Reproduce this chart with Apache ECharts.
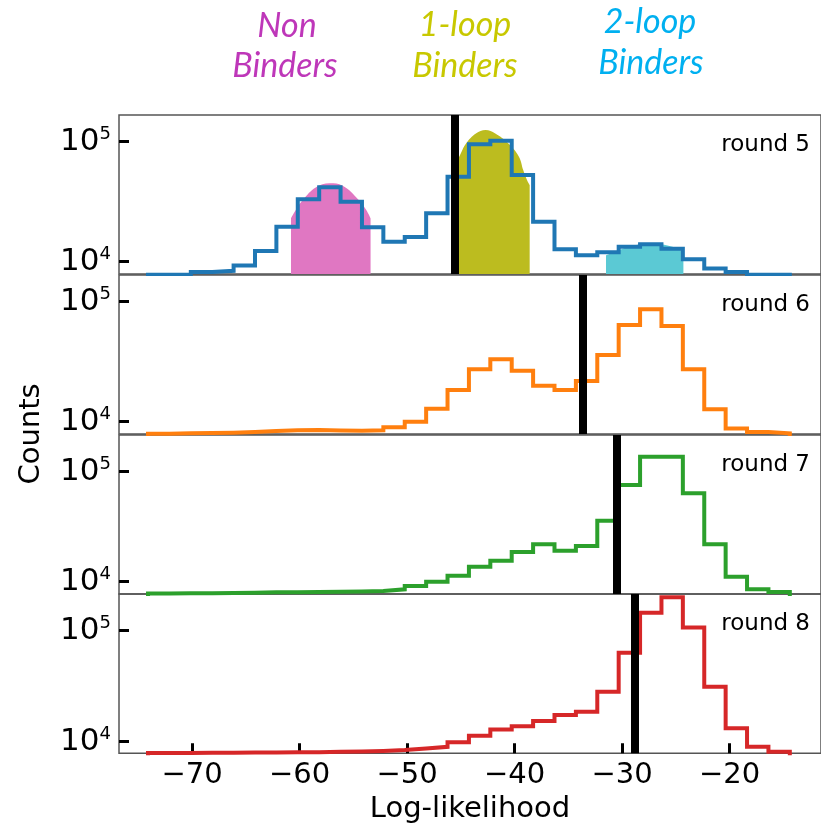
<!DOCTYPE html>
<html>
<head>
<meta charset="UTF-8">
<title></title>
<script src="https://cdn.jsdelivr.net/npm/echarts@6/dist/echarts.min.js"></script>
<style type="text/css">
	html, body { margin: 0; padding: 0; background: #fff; }
	#box { width: 821px; height: 826px; }
</style>
</head>
<body>
<div id="box"></div>
<script type="text/javascript">
// histogram bins (Log-likelihood), 30 bins
var binStart = -74.1;
var binWidth = 1.99;
var xTicks = [-70, -60, -50, -40, -30, -20];
var yTicks = [10000, 100000];

var round5 = [7800, 7800, 8200, 8400, 9300, 12300, 19600, 33100, 41700, 31600, 19400, 14700, 16100, 25300, 51100,
	95000, 102000, 52700, 21500, 12700, 11300, 12000, 13300, 14000, 12800, 10500, 8800, 8200, 7800, 7800];
var round6 = [7950, 8000, 8050, 8100, 8200, 8350, 8500, 8550, 8450, 8400, 8500, 9000, 10000, 12800, 18400,
	27400, 33100, 26600, 19900, 18400, 21800, 36000, 64000, 86500, 62800, 27400, 12700, 8800, 8200, 8000];
var round7 = [7800, 7850, 7850, 7900, 7950, 8000, 8000, 8050, 8100, 8150, 8230, 8530, 9140, 10000, 11340,
	13700, 15500, 18600, 21900, 19100, 21100, 35900, 75700, 137000, 137000, 63700, 21900, 11100, 8530, 8050];
var round8 = [7900, 7900, 7950, 7950, 8000, 8000, 8050, 8050, 8100, 8150, 8250, 8400, 8700, 9000, 9900,
	11300, 12900, 13800, 15400, 17400, 18600, 28200, 63400, 145000, 200000, 107000, 31300, 13200, 9000, 8130];

// thresholds (black lines)
var cutoffs = [-45.6, -33.7, -30.5, -28.8];

// shaded populations on round 5
var nonBinders = [[-60.8, 23000], [-60.3, 27500], [-59.7, 32700], [-58.5, 41500], [-57.2, 45000],
	[-56.0, 43000], [-54.5, 32700], [-53.8, 27000], [-53.4, 23000]];
var oneLoop = [[-45.6, 61000], [-45.0, 80000], [-44.5, 97000], [-43.6, 117000], [-42.7, 125000],
	[-41.8, 117000], [-40.6, 97000], [-39.6, 75000], [-39.2, 58000], [-38.85, 48000], [-38.6, 43600]];
var twoLoop = [[-31.5, 11300], [-30.2, 12600], [-28.8, 13700], [-27.5, 14200], [-26.2, 13900],
	[-25.0, 13000], [-24.3, 12100]];

var rounds = [round5, round6, round7, round8];
var roundNames = ['round 5', 'round 6', 'round 7', 'round 8'];
var lineColors = ['#1f77b4', '#ff7f0e', '#2ca02c', '#d62728'];
var yMin = [7900, 7900, 7730, 7862];
var yMax = [166900, 166900, 215600, 214100];
var gridTop = [115, 275, 435, 594];
var gridH = [159, 159, 159, 159.3];

function stepPoints(counts) {
	var pts = [[binStart, 1]];
	for (var i = 0; i < counts.length; i++) {
		var e0 = binStart + i * binWidth;
		pts.push([e0, counts[i]]);
		pts.push([e0 + binWidth, counts[i]]);
	}
	pts.push([binStart + counts.length * binWidth, 1]);
	return pts;
}

var myChart = echarts.init(document.getElementById('box'));

var grids = [], xAxes = [], yAxes = [], series = [], texts = [];
for (var p = 0; p < 4; p++) {
	var last = p === 3;
	grids.push({
		left: 119, right: -2.5, top: gridTop[p], height: gridH[p],
		show: true, borderColor: '#555', borderWidth: 1.5, backgroundColor: 'transparent'
	});
	xAxes.push({
		type: 'value', gridIndex: p, min: -76.8, max: -11.5,
		axisLine: { show: false },
		splitLine: { show: false },
		axisTick: { show: last, inside: true, length: 10, lineStyle: { color: '#000', width: 3 }, customValues: xTicks },
		axisLabel: {
			show: last, customValues: xTicks, margin: 8,
			fontFamily: 'DejaVu Sans', fontSize: 29, color: '#000',
			formatter: function (v) { return v < 0 ? '\u2212' + Math.abs(v) : '' + v; }
		},
		name: last ? 'Log-likelihood' : '',
		nameLocation: 'middle', nameGap: 42,
		nameTextStyle: { fontFamily: 'DejaVu Sans', fontSize: 29, color: '#000' }
	});
	yAxes.push({
		type: 'log', logBase: 10, gridIndex: p, min: yMin[p], max: yMax[p],
		axisLine: { show: false },
		splitLine: { show: false },
		minorTick: { show: false },
		axisTick: { show: true, inside: true, length: 10, lineStyle: { color: '#000', width: 3 }, customValues: yTicks },
		axisLabel: {
			margin: 8, color: '#000', customValues: yTicks,
			formatter: function (v) {
				var e = Math.round(Math.log(v) / Math.LN10);
				return '{b|10}{s|' + e + '}';
			},
			rich: {
				b: { fontFamily: 'DejaVu Sans', fontSize: 31, color: '#000' },
				s: { fontFamily: 'DejaVu Sans', fontSize: 18, color: '#000', padding: [0, 0, 15, 0] }
			}
		}
	});
	series.push({
		type: 'line', xAxisIndex: p, yAxisIndex: p, z: 3,
		data: stepPoints(rounds[p]),
		showSymbol: false, symbol: 'none', silent: true,
		lineStyle: { color: lineColors[p], width: 4, join: 'miter' },
		markLine: {
			silent: true, symbol: ['none', 'none'], animation: false,
			label: { show: false },
			lineStyle: { color: '#000', width: 8, type: 'solid' },
			emphasis: { disabled: true },
			data: [{ xAxis: cutoffs[p] }]
		}
	});
	texts.push({
		type: 'text', right: 11, top: gridTop[p] + 19,
		style: { text: roundNames[p], fontFamily: 'DejaVu Sans', fontSize: 23, fill: '#000' }
	});
}

function fillSeries(data, color) {
	return {
		type: 'line', xAxisIndex: 0, yAxisIndex: 0, z: 1,
		data: data, smooth: 0.4, showSymbol: false, symbol: 'none', silent: true,
		lineStyle: { width: 0 },
		areaStyle: { color: color, opacity: 1, origin: 'start' }
	};
}
series.push(fillSeries(nonBinders, '#e077c2'));
series.push(fillSeries(oneLoop, '#bcbc1f'));
series.push(fillSeries(twoLoop, '#5bc9d4'));

var titleFont = 'italic 34px Lato';
function label(txt, x, y, color) {
	return {
		type: 'text', x: x, y: y,
		style: { text: txt, font: titleFont, fill: color, align: 'center', verticalAlign: 'middle' }
	};
}
texts.push(label('Non', 287, 26, '#be37b9'));
texts.push(label('Binders', 285, 66, '#be37b9'));
texts.push(label('1-loop', 465, 25, '#c8c800'));
texts.push(label('Binders', 465, 66, '#c8c800'));
texts.push(label('2-loop', 650, 22, '#00b0f0'));
texts.push(label('Binders', 651, 63, '#00b0f0'));
texts.push({
	type: 'text', x: 31, y: 434, rotation: Math.PI / 2,
	style: { text: 'Counts', fontFamily: 'DejaVu Sans', fontSize: 29, fill: '#000', align: 'center', verticalAlign: 'middle' }
});

var option = {
	animation: false,
	backgroundColor: '#fff',
	grid: grids,
	xAxis: xAxes,
	yAxis: yAxes,
	series: series,
	graphic: texts
};
myChart.setOption(option);
</script>
</body>
</html>
